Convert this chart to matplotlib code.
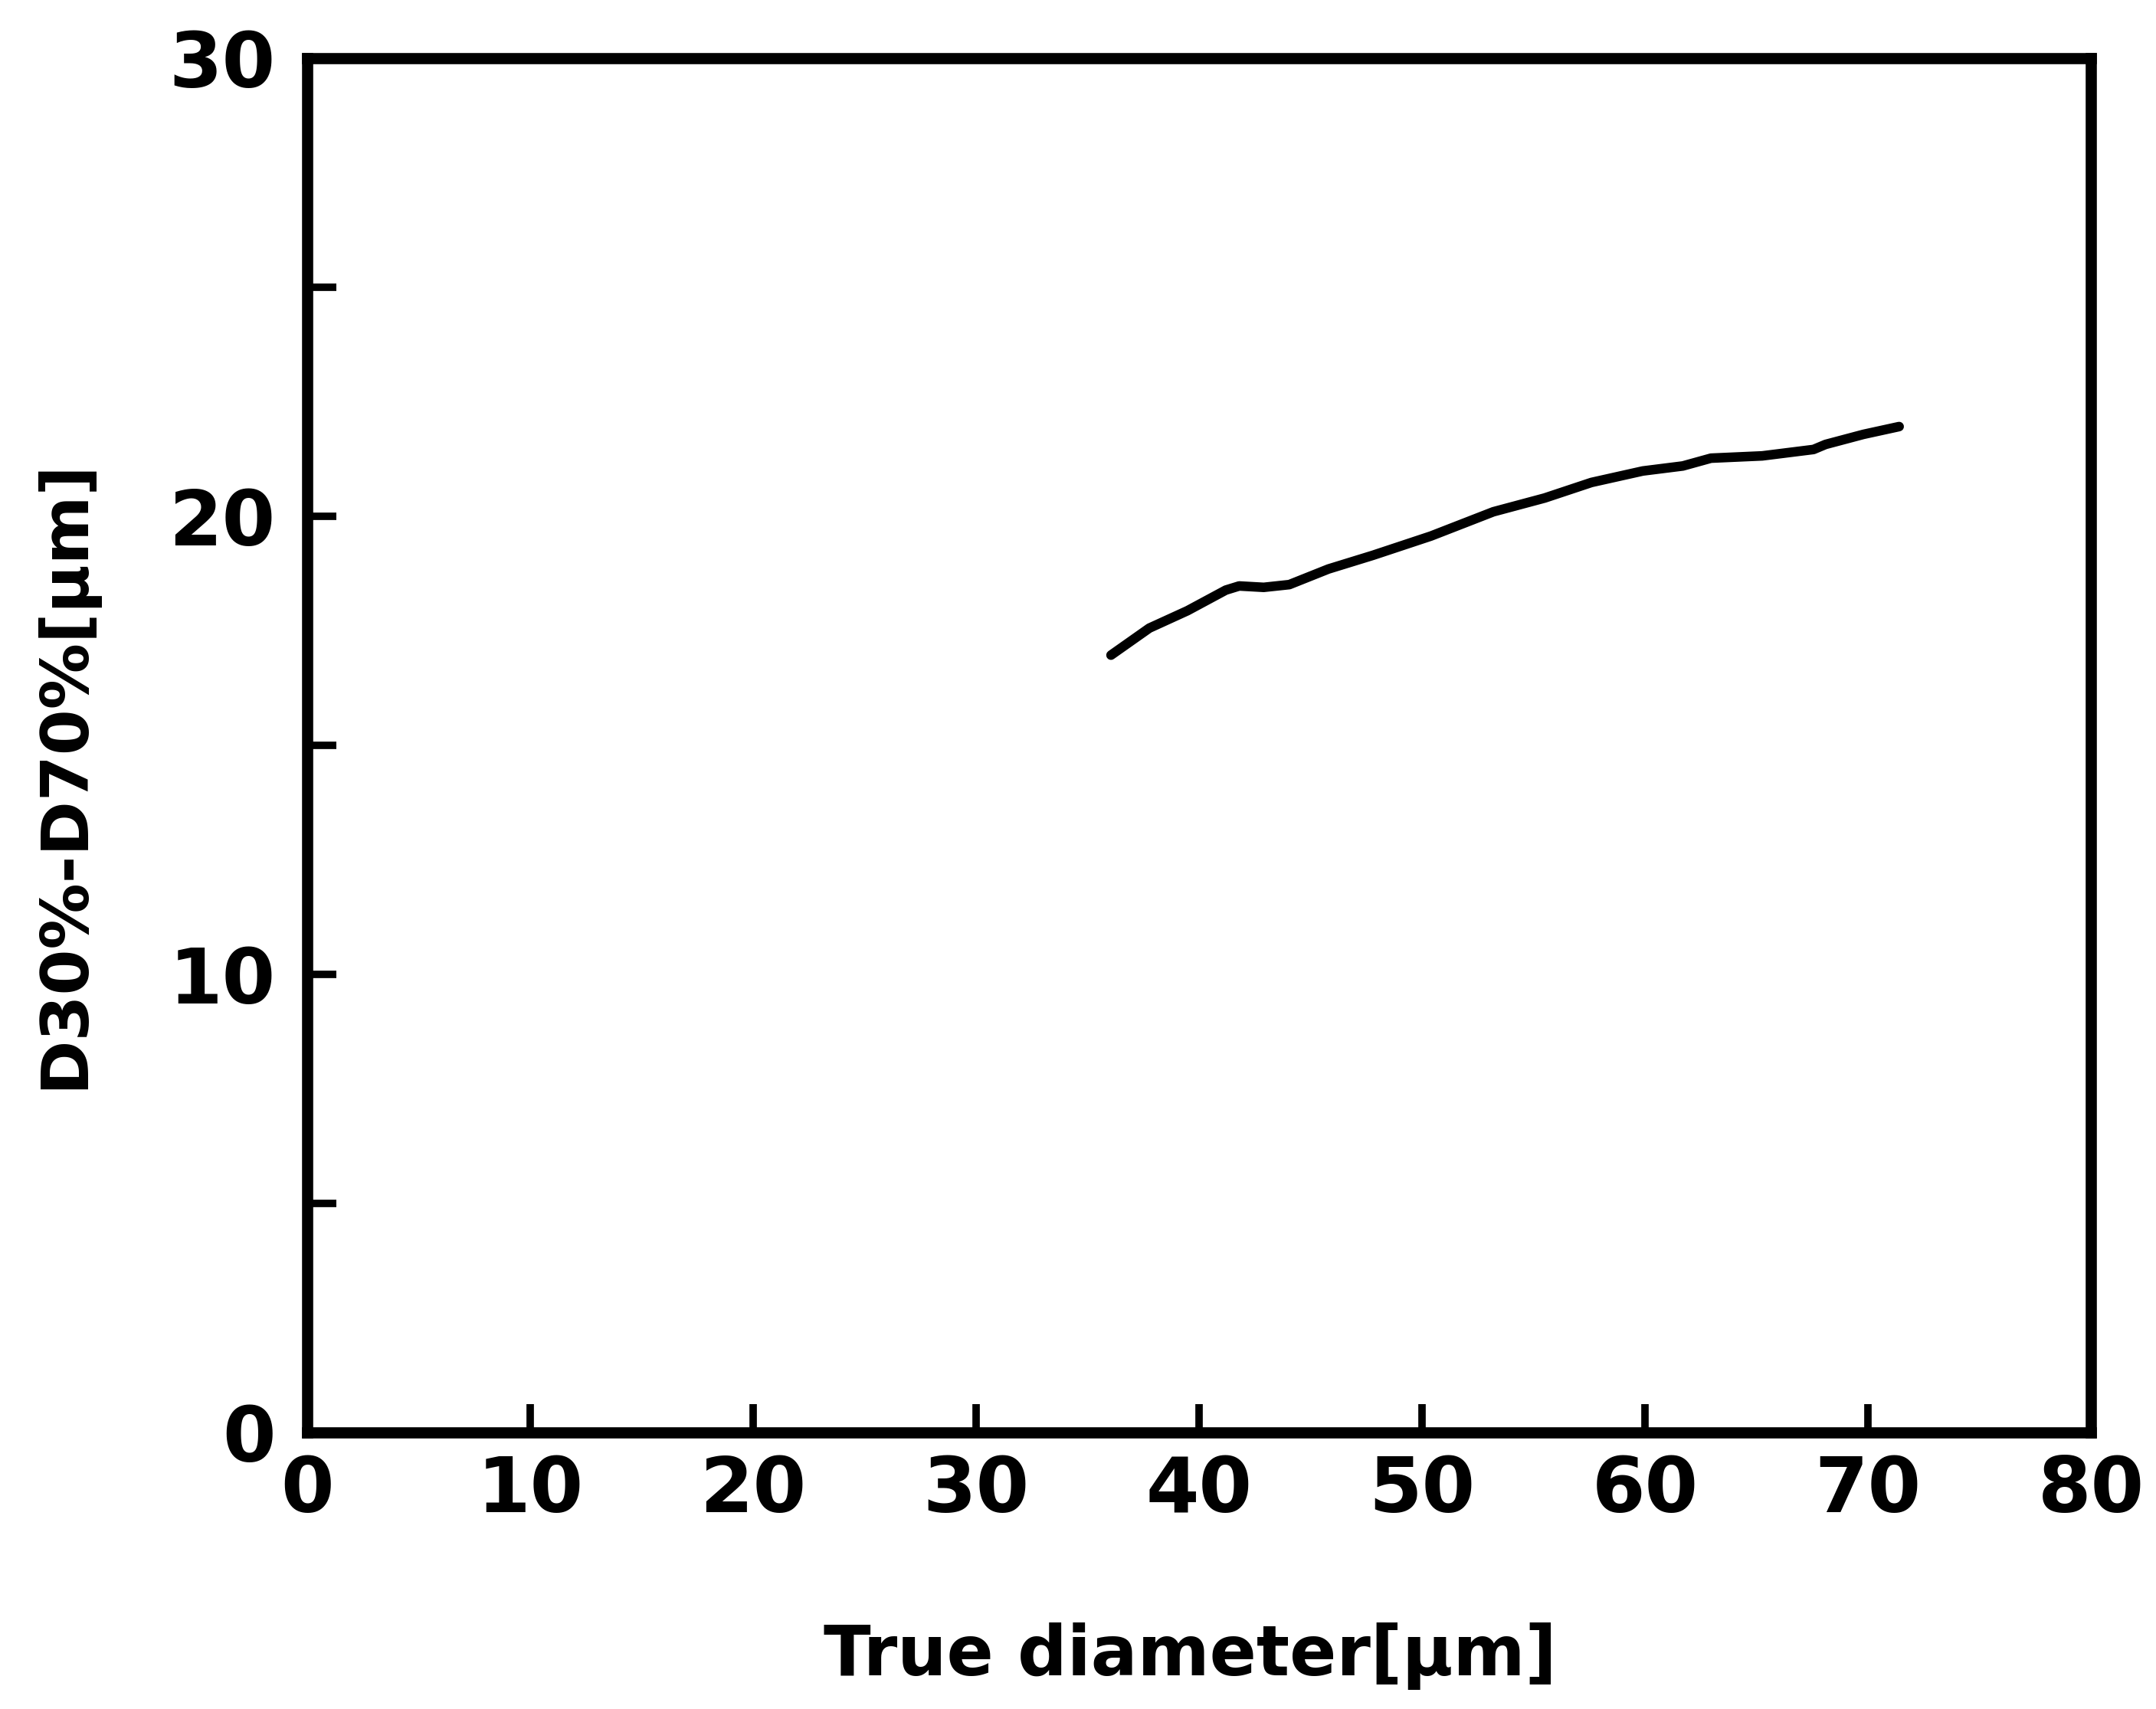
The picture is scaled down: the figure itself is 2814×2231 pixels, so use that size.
import matplotlib
matplotlib.use("Agg")
import matplotlib.pyplot as plt

# Data
true_diameter = [36.05, 37.77, 39.48, 41.2, 41.8, 42.9, 44.05, 45.8, 47.8, 50.4,
                 53.2, 55.5, 57.6, 59.9, 61.7, 62.96, 65.26, 67.56, 68.1, 69.8, 71.4]
d30_d70 = [16.97, 17.56, 17.94, 18.39, 18.48, 18.45, 18.51, 18.85, 19.15, 19.57,
           20.1, 20.4, 20.74, 20.99, 21.1, 21.27, 21.32, 21.46, 21.57, 21.79, 21.96]

x_ticks = [0, 10, 20, 30, 40, 50, 60, 70, 80]
x_ticklabels = ["0", "10", "20", "30", "40", "50", "60", "70", "80"]
y_ticks = [0, 5, 10, 15, 20, 25, 30]
y_ticklabels = ["0", "", "10", "", "20", "", "30"]

x_label = "True diameter[μm]"
y_label = "D30%-D70%[μm]"

plt.rcParams['font.family'] = ['DejaVu Sans']
plt.rcParams['font.weight'] = 'bold'

fig = plt.figure(figsize=(28.14, 22.31), dpi=100)
ax = fig.add_axes([0.1425, 0.1618, 0.9698 - 0.1425, 0.9659 - 0.1618])

ax.plot(true_diameter, d30_d70, color='black', linewidth=9, solid_capstyle='round')

ax.set_xlim(0, 80)
ax.set_ylim(0, 30)
ax.set_xticks(x_ticks)
ax.set_xticklabels(x_ticklabels)
ax.set_yticks(y_ticks)
ax.set_yticklabels(y_ticklabels)

for s in ax.spines.values():
    s.set_linewidth(10.5)
    s.set_color('black')

ax.tick_params(axis='both', direction='in', length=27, width=7, labelsize=72,
               top=False, right=False)
ax.tick_params(axis='x', pad=20)
ax.tick_params(axis='y', pad=30)
for lab in ax.get_xticklabels() + ax.get_yticklabels():
    lab.set_fontweight('bold')

ax.set_xlabel(x_label, fontsize=65, fontweight='bold')
ax.set_ylabel(y_label, fontsize=62, fontweight='bold')
ax.xaxis.set_label_coords(0.495, -0.138)
ax.yaxis.set_label_coords(-0.118, 0.479)

fig.savefig("out.png", dpi=100, facecolor='white')
